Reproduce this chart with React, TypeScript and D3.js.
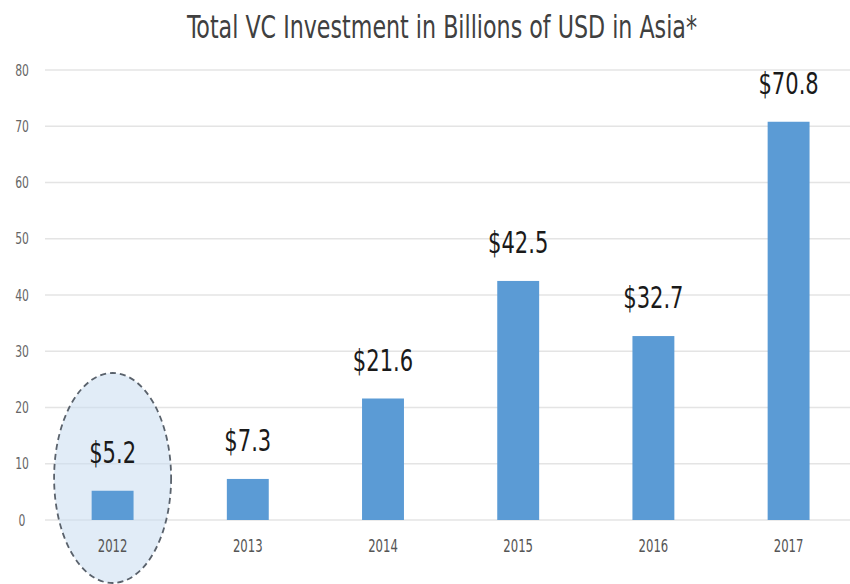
import React, { useEffect, useRef } from 'react';
import * as d3 from 'd3';

const years = ['2012', '2013', '2014', '2015', '2016', '2017'];
const investment = [5.2, 7.3, 21.6, 42.5, 32.7, 70.8];
const yTicks = [0, 10, 20, 30, 40, 50, 60, 70, 80];
const title = 'Total VC Investment in Billions of USD in Asia*';
const highlightYear = '2012';

const W = 850;
const H = 584;
const FONT = "'Liberation Sans Narrow', 'DejaVu Sans Condensed', 'Roboto Condensed', sans-serif";

// squeeze text horizontally, the reference uses a very narrow face
function squeeze(sel: any, factor: number) {
    sel.each(function (this: SVGTextElement) {
        const len = this.getComputedTextLength();
        d3.select(this)
            .attr('textLength', len * factor)
            .attr('lengthAdjust', 'spacingAndGlyphs');
    });
}

const App = () => {
    const svgRef = useRef<SVGSVGElement>(null);

    useEffect(() => {
        const svg = d3.select(svgRef.current);
        svg.selectAll('*').remove();

        // scales
        const x = d3.scaleBand<string>()
            .domain(years)
            .range([45, 45 + 135.2 * years.length])
            .paddingInner(0.69)
            .paddingOuter(0.345);

        const y = d3.scaleLinear()
            .domain([0, 80])
            .range([520, 70]);

        // title
        svg.append('text')
            .attr('x', 442)
            .attr('y', 38)
            .attr('text-anchor', 'middle')
            .attr('font-family', FONT)
            .attr('font-size', 32)
            .attr('fill', '#404040')
            .attr('textLength', 510)
            .attr('lengthAdjust', 'spacingAndGlyphs')
            .text(title);

        // gridlines
        svg.append('g')
            .selectAll('line')
            .data(yTicks)
            .join('line')
            .attr('x1', 45)
            .attr('x2', W)
            .attr('y1', d => y(d))
            .attr('y2', d => y(d))
            .attr('stroke', '#e4e4e4')
            .attr('stroke-width', 1.5);

        // y axis labels
        const yLabels = svg.append('g')
            .selectAll('text')
            .data(yTicks)
            .join('text')
            .attr('x', 22)
            .attr('y', d => y(d))
            .attr('dy', '0.35em')
            .attr('text-anchor', 'middle')
            .attr('font-family', FONT)
            .attr('font-size', 16)
            .attr('fill', '#666')
            .text(d => d);
        squeeze(yLabels, 0.75);

        // highlight ellipse round the first year
        const hx = (x(highlightYear) ?? 0) + x.bandwidth() / 2;
        svg.append('ellipse')
            .attr('cx', hx)
            .attr('cy', y(0) - 42)
            .attr('rx', 58.5)
            .attr('ry', 105)
            .attr('fill', '#c9dcf0')
            .attr('fill-opacity', 0.55)
            .attr('stroke', '#5a626c')
            .attr('stroke-width', 1.8)
            .attr('stroke-dasharray', '6,4');

        // bars
        svg.append('g')
            .selectAll('rect')
            .data(investment)
            .join('rect')
            .attr('x', (d, i) => x(years[i]) ?? 0)
            .attr('y', d => y(d))
            .attr('width', x.bandwidth())
            .attr('height', d => y(0) - y(d))
            .attr('fill', '#5b9bd5');

        // value labels
        const valueLabels = svg.append('g')
            .selectAll('text')
            .data(investment)
            .join('text')
            .attr('x', (d, i) => (x(years[i]) ?? 0) + x.bandwidth() / 2)
            .attr('y', d => y(d) - 28)
            .attr('text-anchor', 'middle')
            .attr('font-family', FONT)
            .attr('font-size', 30)
            .attr('fill', '#1a1a1a')
            .text(d => '$' + d.toFixed(1));
        squeeze(valueLabels, 0.78);

        // x labels
        const xLabels = svg.append('g')
            .selectAll('text')
            .data(years)
            .join('text')
            .attr('x', d => (x(d) ?? 0) + x.bandwidth() / 2)
            .attr('y', 552)
            .attr('text-anchor', 'middle')
            .attr('font-family', FONT)
            .attr('font-size', 18)
            .attr('fill', '#555')
            .text(d => d);
        squeeze(xLabels, 0.72);
    }, []);

    return (
        <svg
            ref={svgRef}
            width={W}
            height={H}
            style={{ position: 'absolute', left: 0, top: 0, background: '#fff' }}
        />
    );
};

export default App;
